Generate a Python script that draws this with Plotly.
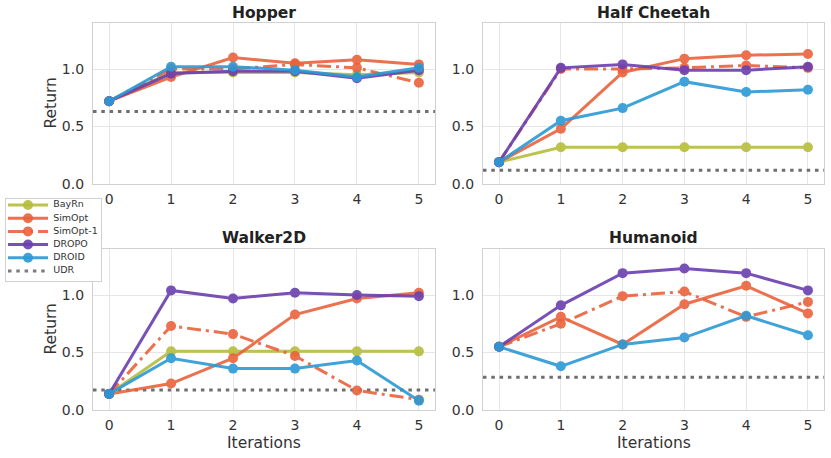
import plotly.graph_objects as go

iterations = [0, 1, 2, 3, 4, 5]
envs = ["Hopper", "Half Cheetah", "Walker2D", "Humanoid"]

bayrn = {
    "Hopper":       [0.72, 0.97, 0.97, 0.97, 0.95, 0.97],
    "Half Cheetah": [0.19, 0.32, 0.32, 0.32, 0.32, 0.32],
    "Walker2D":     [0.14, 0.51, 0.51, 0.51, 0.51, 0.51],
    "Humanoid":     None,
}
simopt = {
    "Hopper":       [0.72, 0.93, 1.10, 1.05, 1.08, 1.04],
    "Half Cheetah": [0.19, 0.48, 0.97, 1.09, 1.12, 1.13],
    "Walker2D":     [0.14, 0.23, 0.45, 0.83, 0.97, 1.02],
    "Humanoid":     [0.55, 0.81, 0.57, 0.92, 1.08, 0.84],
}
simopt1 = {
    "Hopper":       [0.72, 1.00, 1.00, 1.04, 1.01, 0.88],
    "Half Cheetah": [0.19, 1.00, 1.00, 1.01, 1.03, 1.01],
    "Walker2D":     [0.14, 0.73, 0.66, 0.47, 0.17, 0.09],
    "Humanoid":     [0.55, 0.75, 0.99, 1.03, 0.81, 0.94],
}
dropo = {
    "Hopper":       [0.72, 0.96, 0.98, 0.98, 0.92, 0.99],
    "Half Cheetah": [0.19, 1.01, 1.04, 0.99, 0.99, 1.02],
    "Walker2D":     [0.14, 1.04, 0.97, 1.02, 1.00, 0.99],
    "Humanoid":     [0.55, 0.91, 1.19, 1.23, 1.19, 1.04],
}
droid = {
    "Hopper":       [0.72, 1.02, 1.02, 0.99, 0.93, 1.01],
    "Half Cheetah": [0.19, 0.55, 0.66, 0.89, 0.80, 0.82],
    "Walker2D":     [0.14, 0.45, 0.36, 0.36, 0.43, 0.08],
    "Humanoid":     [0.55, 0.38, 0.57, 0.63, 0.82, 0.65],
}
udr = {"Hopper": 0.63, "Half Cheetah": 0.12, "Walker2D": 0.175, "Humanoid": 0.285}

y_ticks = [0.0, 0.5, 1.0]
y_tick_text = ["0.0", "0.5", "1.0"]
legend_names = ["BayRn", "SimOpt", "SimOpt-1", "DROPO", "DROID", "UDR"]
legend_rows = [1, 2, 3, 4, 5, 6]

X_RANGE = [-0.26, 5.26]
Y_RANGE = [0, 1.4]

W, H = 831, 458
FONT = "DejaVu Sans"
GRID = "#e6e6e6"
EDGE = "#d0d0d0"
TXT = "#333333"
UDR_COLOR = "#6f6f6f"
UDR_DASH = "3.5px,4.8px"
DASHDOT = "14px,5px,3px,5px"

# pixel boxes (left, right, top, bottom)
boxes = {
    "Hopper":       (93, 435, 23, 184),
    "Half Cheetah": (483, 824, 23, 184),
    "Walker2D":     (93, 435, 249, 410),
    "Humanoid":     (483, 824, 249, 410),
}
legend_box = (6, 101, 199, 281)

series = [
    ("BayRn", bayrn, "#b5bd3c", "solid"),
    ("SimOpt", simopt, "#e9623c", "solid"),
    ("SimOpt-1", simopt1, "#e9623c", DASHDOT),
    ("DROPO", dropo, "#6a3fb0", "solid"),
    ("DROID", droid, "#2b9ad6", "solid"),
]

fig = go.Figure()
layout = {}
annotations = []
for i, env in enumerate(envs):
    n = i + 1
    xa = "xaxis" if n == 1 else f"xaxis{n}"
    ya = "yaxis" if n == 1 else f"yaxis{n}"
    xr = "x" if n == 1 else f"x{n}"
    yr = "y" if n == 1 else f"y{n}"
    l, r, t, b = boxes[env]
    bottom_row = env in ("Walker2D", "Humanoid")
    left_col = env in ("Hopper", "Walker2D")
    layout[xa] = dict(
        domain=[l / W, r / W], anchor=yr, range=X_RANGE, automargin=False,
        tickvals=iterations, ticks="", showgrid=True, gridcolor=GRID, gridwidth=1,
        showline=True, linecolor=EDGE, linewidth=1.2, mirror=True, zeroline=False,
        tickfont=dict(family=FONT, size=14, color=TXT), ticklabelstandoff=2,
    )
    layout[ya] = dict(
        domain=[1 - b / H, 1 - t / H], anchor=xr, range=Y_RANGE, automargin=False,
        tickvals=y_ticks, ticktext=y_tick_text, ticks="", showgrid=True,
        gridcolor=GRID, gridwidth=1,
        showline=True, linecolor=EDGE, linewidth=1.2, mirror=True, zeroline=False,
        tickfont=dict(family=FONT, size=14, color=TXT), ticklabelstandoff=5,
    )
    annotations.append(dict(
        text=f"<b>{env}</b>", x=(l + r) / 2 / W, y=1 - (t - 10.5) / H,
        xref="paper", yref="paper", xanchor="center", yanchor="middle",
        showarrow=False, font=dict(family=FONT, size=15.5, color="#222222"),
    ))
    if left_col:
        annotations.append(dict(
            text="Return", x=50 / W, y=1 - (t + b) / 2 / H, textangle=-90,
            xref="paper", yref="paper", xanchor="center", yanchor="middle",
            showarrow=False, font=dict(family=FONT, size=15.5, color=TXT),
        ))
    if bottom_row:
        annotations.append(dict(
            text="Iterations", x=(l + r) / 2 / W, y=1 - 443 / H,
            xref="paper", yref="paper", xanchor="center", yanchor="middle",
            showarrow=False, font=dict(family=FONT, size=15.5, color=TXT),
        ))
    # UDR baseline spanning the axis range
    fig.add_trace(go.Scatter(
        x=X_RANGE, y=[udr[env], udr[env]], mode="lines",
        line=dict(color=UDR_COLOR, width=3, dash=UDR_DASH),
        name="UDR", showlegend=False, xaxis=xr, yaxis=yr, hoverinfo="skip",
    ))
    for name, data, color, dash in series:
        vals = data[env]
        if vals is None:
            continue
        fig.add_trace(go.Scatter(
            x=iterations, y=vals, mode="lines+markers",
            line=dict(color=color, width=3, dash=dash),
            marker=dict(color=color, size=10),
            opacity=0.9, name=name, showlegend=False,
            xaxis=xr, yaxis=yr,
        ))

# ---- legend drawn as a small boxed panel (matplotlib-style compact legend)
ll, lr, lt, lb = legend_box
layout["xaxis5"] = dict(domain=[ll / W, lr / W], anchor="y5", range=[-0.05, 2.325],
                        showgrid=False, zeroline=False, showticklabels=False, ticks="",
                        showline=True, linecolor=EDGE, linewidth=1, mirror=True,
                        fixedrange=True, automargin=False)
layout["yaxis5"] = dict(domain=[1 - lb / H, 1 - lt / H], anchor="x5", range=[6.76, 0.545],
                        showgrid=False, zeroline=False, showticklabels=False, ticks="",
                        showline=True, linecolor=EDGE, linewidth=1, mirror=True,
                        fixedrange=True, automargin=False)
legend_styles = [(s[2], s[3], True) for s in series] + [(UDR_COLOR, UDR_DASH, False)]
for row, (color, dash, has_marker) in zip(legend_rows, legend_styles):
    fig.add_trace(go.Scatter(
        x=[0, 1], y=[row, row], mode="lines",
        line=dict(color=color, width=3, dash="17px,5px,3px,5px" if dash == DASHDOT else dash),
        opacity=0.9, showlegend=False, xaxis="x5", yaxis="y5", hoverinfo="skip",
    ))
    if has_marker:
        fig.add_trace(go.Scatter(
            x=[0.5], y=[row], mode="markers", marker=dict(color=color, size=10),
            opacity=0.9, showlegend=False, xaxis="x5", yaxis="y5", hoverinfo="skip",
        ))
fig.add_trace(go.Scatter(
    x=[1.13] * len(legend_names), y=legend_rows, mode="text", text=legend_names,
    textposition="middle right", textfont=dict(family=FONT, size=9.5, color=TXT),
    showlegend=False, xaxis="x5", yaxis="y5", hoverinfo="skip", cliponaxis=False,
))

fig.update_layout(
    **layout,
    annotations=annotations,
    width=W, height=H,
    margin=dict(l=0, r=0, t=0, b=0, autoexpand=False),
    paper_bgcolor="white", plot_bgcolor="white",
    font=dict(family=FONT, color=TXT),
    showlegend=False,
    hovermode=False,
)

fig.write_html("out.html", config={"displayModeBar": False},
               post_script="document.body.style.margin='0px';")
